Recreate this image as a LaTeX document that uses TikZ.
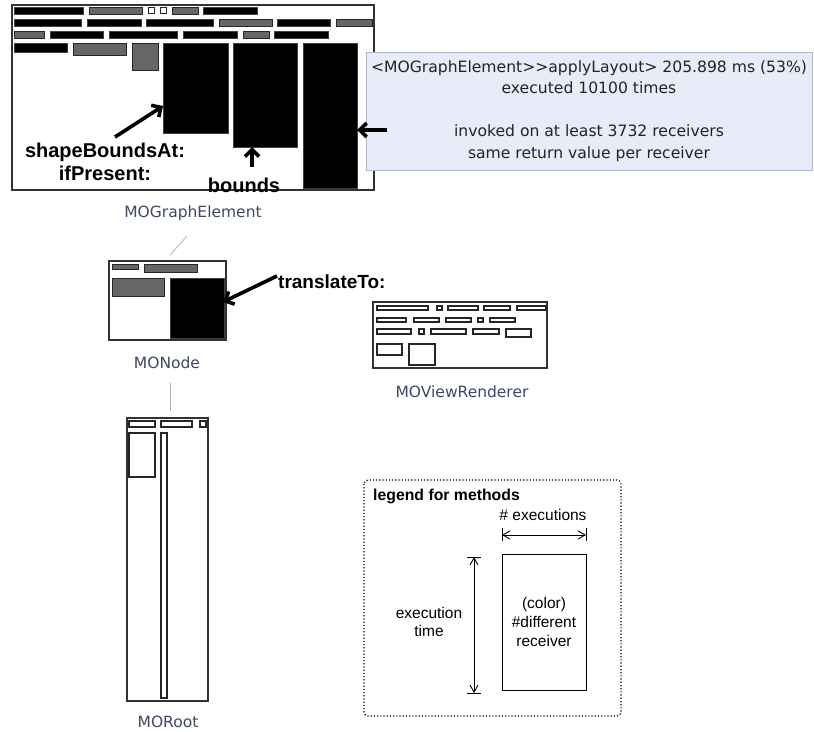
\documentclass[tikz,border=0pt]{standalone}
\usepackage{fontspec}
\setmainfont{Liberation Sans}
\newfontfamily\dejavu{DejaVu Sans}
\usetikzlibrary{arrows.meta}
\definecolor{lbl}{RGB}{62,72,102}
\definecolor{tipfill}{RGB}{232,236,248}
\definecolor{tipdraw}{RGB}{176,184,208}
\definecolor{midgray}{RGB}{102,102,102}
\definecolor{tiptext}{RGB}{35,35,35}
\begin{document}
\begin{tikzpicture}[x=1pt,y=-1pt,
  blk/.style={fill=black,draw=black!75,line width=0.9},
  gry/.style={fill=midgray,draw=black!85,line width=0.9},
  wht/.style={fill=white,draw=black!85,line width=0.9},
  wbar/.style={fill=white,draw=black!85,line width=1.1},
  frame/.style={draw=black!80,line width=1.6,fill=white},
  clslabel/.style={font=\dejavu\fontsize{15.5}{18}\selectfont,text=lbl,inner sep=0pt},
  bigarrow/.style={line width=3.6,-{Straight Barb[length=7pt,width=14pt]}},
  boldlbl/.style={font=\bfseries\fontsize{20}{22}\selectfont,align=center,inner sep=0pt},
  conn/.style={draw=black!30,line width=0.8},
  legtext/.style={font=\fontsize{15.5}{19}\selectfont,align=center,inner sep=0pt},
  dimarrow/.style={line width=0.9,{Straight Barb[length=7pt,width=8pt]}-{Straight Barb[length=7pt,width=8pt]}},
  ]
\useasboundingbox (0,0) rectangle (814,731);
% ---------------- MOGraphElement ----------------
\draw[frame] (12,5) rectangle (374,190);
% row 1
\draw[blk] (14,7) rectangle (83,14);
\draw[gry] (89,7) rectangle (142,14);
\draw[wht] (148,7) rectangle (154,13);
\draw[wht] (160,7) rectangle (166,13);
\draw[gry] (172,7) rectangle (198,14);
\draw[blk] (203,7) rectangle (257,14);
% row 2
\draw[blk] (14,19) rectangle (81,26);
\draw[blk] (87,19) rectangle (141,26);
\draw[blk] (146,19) rectangle (213,26);
\draw[gry] (219,19) rectangle (272,26);
\draw[blk] (277,19) rectangle (330,26);
\draw[gry] (336,19) rectangle (372,26);
% row 3
\draw[gry] (14,31) rectangle (44,38);
\draw[blk] (50,31) rectangle (103,38);
\draw[blk] (109,31) rectangle (177,38);
\draw[blk] (183,31) rectangle (237,38);
\draw[gry] (243,31) rectangle (269,38);
\draw[blk] (274,31) rectangle (328,38);
% row 4
\draw[blk] (14,43) rectangle (67,52);
\draw[gry] (73,43) rectangle (126,55);
\draw[gry] (132,43) rectangle (158,70);
\draw[blk] (163,43) rectangle (228,133);
\draw[blk] (233,43) rectangle (297,147);
\draw[blk] (303,43) rectangle (357,188);
\coordinate (sbTip) at (163,106);
\coordinate (bTip) at (252,147);
\coordinate (rTip) at (357,130);
\node[boldlbl,font=\bfseries\fontsize{20}{22.5}\selectfont] (sbl) at (105,162) {shapeBoundsAt:\\ifPresent:};
\node[boldlbl] (bl) at (244,185) {bounds};
\coordinate (sbTail) at (115,137);
\coordinate (bTail) at (252,167);
\draw[bigarrow] (sbTail) -- (sbTip);
\draw[bigarrow] (bTail) -- (bTip);
\node[clslabel] (geL) at (193,213) {MOGraphElement};
% ---------------- tooltip ----------------
\node[draw=tipdraw,fill=tipfill,line width=1,minimum width=446,minimum height=118,inner sep=0pt] (tip) at (589,111) {};
\node[font=\dejavu\fontsize{15.6}{21.5}\selectfont,text=tiptext,align=center,inner sep=0pt] (tipT) at (589,111)
  {<MOGraphElement>{}>applyLayout> 205.898 ms (53\%)\\executed 10100 times\\[21.5pt]invoked on at least 3732 receivers\\same return value per receiver};
\coordinate (rTail) at (387,130);
\draw[bigarrow] (rTail) -- (rTip);
% ---------------- MONode ----------------
\draw[frame] (109,261) rectangle (226,340);
\draw[gry] (112,264) rectangle (138,269);
\draw[gry] (144,264) rectangle (197,272);
\draw[gry] (112,278) rectangle (164,296);
\draw[blk] (170,278) rectangle (224,338);
\coordinate (tTip) at (223,302);
\node[boldlbl,font=\bfseries\fontsize{19}{22}\selectfont,anchor=west] (tl) at (278,282) {translateTo:};
\coordinate (tTail) at (277,276);
\draw[bigarrow] (tTail) -- (tTip);
\node[clslabel] (noL) at (167,363) {MONode};
\coordinate (c1) at (187,236);
\coordinate (c2) at (170,255);
\draw[conn] (c1) -- (c2);
% ---------------- MOViewRenderer ----------------
\draw[frame,line width=1.4] (373,302) rectangle (547,368);
\draw[wbar] (377,306) rectangle (428,310);
\draw[wbar] (437,306) rectangle (442,310);
\draw[wbar] (448,306) rectangle (478,310);
\draw[wbar] (484,306) rectangle (510,310);
\draw[wbar] (517,306) rectangle (546,310);
\draw[wbar] (377,318) rectangle (406,322);
\draw[wbar] (414,318) rectangle (439,322);
\draw[wbar] (446,318) rectangle (471,322);
\draw[wbar] (478,318) rectangle (483,322);
\draw[wbar] (490,318) rectangle (515,322);
\draw[wbar] (377,329) rectangle (411,334);
\draw[wbar] (419,329) rectangle (424,334);
\draw[wbar] (431,329) rectangle (466,334);
\draw[wbar] (473,329) rectangle (499,334);
\draw[wbar] (506,329) rectangle (531,337);
\draw[wbar] (377,344) rectangle (402,355);
\draw[wbar] (409,344) rectangle (435,365);
\node[clslabel] (vrL) at (462,392) {MOViewRenderer};
% ---------------- MORoot ----------------
\draw[frame,line width=1.4] (127,418) rectangle (208,701);
\draw[wbar] (129,421) rectangle (155,427);
\draw[wbar] (161,421) rectangle (192,427);
\draw[wbar] (200,421) rectangle (206,427);
\draw[wbar] (129,433) rectangle (155,477);
\draw[wbar] (161,433) rectangle (167,698);
\node[clslabel] (roL) at (168,722) {MORoot};
\coordinate (c3) at (170,383);
\coordinate (c4) at (170,411);
\draw[conn] (c3) -- (c4);
% ---------------- legend ----------------
\draw[line width=1.2,dotted,rounded corners=4] (364,480) rectangle (621,716);
\node[font=\bfseries\fontsize{15.8}{19}\selectfont,anchor=west,inner sep=0pt] (legT) at (373,496) {legend for methods};
\node[legtext] (exL) at (543,515) {\# executions};
\coordinate (h1) at (502,535);
\coordinate (h2) at (586,535);
\draw[line width=0.9] (502,528) -- (502,541) (586,528) -- (586,541);
\draw[dimarrow] (h1) -- (h2);
\node[draw=black,line width=1,minimum width=84,minimum height=136,inner sep=0pt] (mbox) at (544,622) {};
\node[legtext] (mboxT) at (544,622) {(color)\\\#different\\receiver};
\coordinate (v1) at (474,557);
\coordinate (v2) at (474,693);
\draw[line width=0.9] (467,557) -- (481,557) (467,693) -- (481,693);
\draw[dimarrow] (v1) -- (v2);
\node[legtext,font=\fontsize{15.5}{18}\selectfont] (etL) at (429,622) {execution\\time};
\end{tikzpicture}
\end{document}
